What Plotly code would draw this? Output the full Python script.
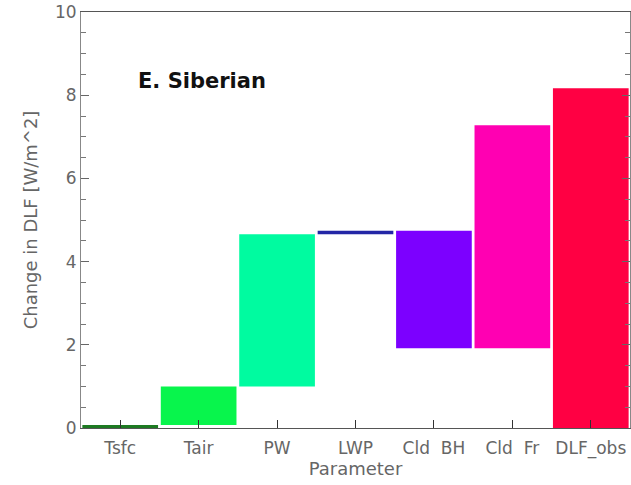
import plotly.graph_objects as go

# Contributions of each parameter to the change in downwelling longwave flux
parameters = ["Tsfc", "Tair", "PW", "LWP", "Cld  BH", "Cld  Fr"]
contributions = [0.07, 0.93, 3.66, 0.08, -2.82, 5.36]
observed_label = "DLF_obs"
observed_change = 8.17
colors = ["#1d7a22", "#08f54c", "#00fba0", "#2326a6", "#7c00ff", "#ff00b2", "#ff0043"]

# Running total gives the floor of each stacked step
bases, heights = [], []
running = 0.0
for c in contributions:
    bases.append(running if c >= 0 else running + c)
    heights.append(abs(c))
    running += c
bases.append(0.0)
heights.append(observed_change)
labels = parameters + [observed_label]

fig = go.Figure(
    go.Bar(
        x=labels,
        y=heights,
        base=bases,
        marker=dict(color=colors, line=dict(width=0)),
        hoverinfo="skip",
    )
)

font_gray = "#666666"
fig.update_layout(
    width=631,
    height=485,
    margin=dict(l=81, r=1, t=12, b=57),
    paper_bgcolor="white",
    plot_bgcolor="white",
    bargap=0.035,
    showlegend=False,
    font=dict(family="DejaVu Sans", size=17, color=font_gray),
    annotations=[
        dict(
            text="<b>E. Siberian</b>",
            xref="paper", yref="paper",
            x=0.1, y=0.835, xanchor="left", yanchor="middle",
            showarrow=False,
            font=dict(family="DejaVu Sans", size=21, color="#111111"),
        )
    ],
)
fig.update_xaxes(
    type="category",
    showline=True, linecolor="#555555", linewidth=1, mirror=True,
    ticks="inside", ticklen=8, tickcolor="#333333",
    showgrid=False, zeroline=False,
    ticklabelstandoff=5,
    tickfont=dict(size=17, color=font_gray),
    title=dict(text="Parameter", standoff=0, font=dict(size=18, color=font_gray)),
)
fig.update_yaxes(
    range=[0, 10],
    tickvals=[0, 2, 4, 6, 8, 10],
    showline=True, linecolor="#888888", linewidth=1, mirror="ticks",
    ticks="inside", ticklen=8, tickcolor="#666666",
    minor=dict(dtick=0.5, ticks="inside", ticklen=5, tickcolor="#777777"),
    showgrid=False, zeroline=False,
    tickfont=dict(size=17, color=font_gray),
    title=dict(text="Change in DLF [W/m^2]", standoff=12, font=dict(size=18, color=font_gray)),
)

fig.write_html("out.html")
